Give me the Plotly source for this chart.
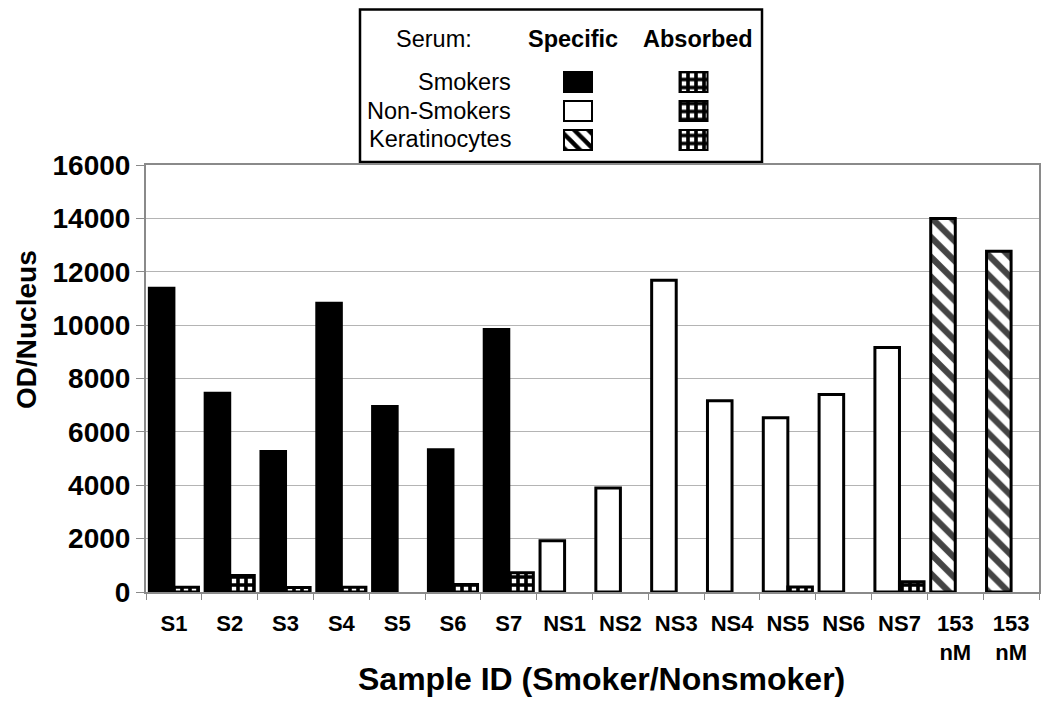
import plotly.graph_objects as go

# ---------------- data ----------------
categories = ["S1", "S2", "S3", "S4", "S5", "S6", "S7",
              "NS1", "NS2", "NS3", "NS4", "NS5", "NS6", "NS7",
              "153<br>nM", "153<br>nM"]
groups = ["Smokers"] * 7 + ["Non-Smokers"] * 7 + ["Keratinocytes"] * 2
specific = [11380, 7450, 5260, 10820, 6950, 5330, 9840,
            1920, 3900, 11680, 7170, 6530, 7400, 9160,
            14000, 12770]
absorbed = [180, 620, 170, 180, None, 280, 720,
            None, None, None, None, 190, None, 380,
            None, None]
y_ticks = [0, 2000, 4000, 6000, 8000, 10000, 12000, 14000, 16000]
legend_rows = ["Smokers", "Non-Smokers", "Keratinocytes"]
legend_cols = ["Specific", "Absorbed"]

# ---------------- styles ----------------
FONT = "Liberation Sans, Arial, Helvetica, sans-serif"
fill_for = {"Smokers": "black", "Non-Smokers": "white", "Keratinocytes": "white"}
shape_for = {"Smokers": "", "Non-Smokers": "", "Keratinocytes": "\\"}
HATCH_SIZE, HATCH_SOLID = 14, 0.45
CHECK_SHAPE, CHECK_SIZE, CHECK_SOLID = "+", 8, 0.7

# layout geometry (pixels); the page body adds an 8px offset
OFF = 8
W, H = 1050 - OFF, 714 - OFF
L, R, T, B = 146 - OFF, 11, 0, 122
PW, PH = W - L - R, H - T - B
PLOT_TOP = 165  # page px


def px_x(x):
    return (x - OFF - L) / PW


def px_y(y):
    return (H - B - (y - OFF)) / PH


x_idx = list(range(len(categories)))

fig = go.Figure()

fig.add_trace(go.Bar(
    x=x_idx, y=specific, name="Specific",
    marker=dict(
        color=[fill_for[g] for g in groups],
        line=dict(color="black", width=3),
        pattern=dict(shape=[shape_for[g] for g in groups],
                     fgcolor="black", bgcolor="white", fgopacity=1,
                     fillmode="overlay", size=HATCH_SIZE, solidity=HATCH_SOLID),
    ),
    showlegend=False,
))
fig.add_trace(go.Bar(
    x=x_idx, y=absorbed, name="Absorbed",
    marker=dict(
        color="white",
        line=dict(color="black", width=3),
        pattern=dict(shape=CHECK_SHAPE, fgcolor="black", bgcolor="white", fgopacity=1,
                     fillmode="overlay", size=CHECK_SIZE, solidity=CHECK_SOLID),
    ),
    showlegend=False,
))

# ---------------- custom legend swatches (overlay axes) ----------------
SW = 0.2424
for ci, col in enumerate(legend_cols):
    for ri, row in enumerate(legend_rows):
        if col == "Specific":
            color = fill_for[row]
            shp = shape_for[row]
            size, sol = 10, 0.45
        else:
            color = "white"
            shp = CHECK_SHAPE
            size, sol = CHECK_SIZE, CHECK_SOLID
        fig.add_trace(go.Bar(
            x=[ci], y=[0.69], base=[ri - 0.345], width=SW, offset=-SW / 2,
            xaxis="x2", yaxis="y2",
            marker=dict(color=color, line=dict(color="black", width=2),
                        pattern=dict(shape=shp, fgcolor="black", bgcolor="white",
                                     fgopacity=1, fillmode="overlay",
                                     size=size, solidity=sol)),
            showlegend=False, hoverinfo="skip",
        ))

grid_col = "#b4b4b4"
axis_col = "#8a8a8a"
main_top = px_y(PLOT_TOP)

fig.update_layout(
    width=W, height=H,
    margin=dict(l=L, r=R, t=T, b=B, pad=0),
    paper_bgcolor="white", plot_bgcolor="white",
    barmode="group", bargap=0.12, bargroupgap=0.0,
    font=dict(family=FONT, color="black"),
    xaxis=dict(
        domain=[0, 1], automargin=False,
        range=[-0.5, len(categories) - 0.5],
        tickmode="array", tickvals=x_idx, ticktext=categories,
        ticks="", showgrid=False, zeroline=False,
        tickfont=dict(family=FONT, size=22, color="black", weight="bold"),
        ticklabelstandoff=11,
        showline=True, linecolor=axis_col, linewidth=2, mirror=True,
        minor=dict(tick0=-0.5, dtick=1, ticks="outside", ticklen=6,
                   tickcolor=axis_col, tickwidth=1, showgrid=False),
    ),
    yaxis=dict(
        domain=[0, main_top], automargin=False,
        range=[0, 16000], tickmode="array", tickvals=y_ticks,
        ticktext=[str(v) for v in y_ticks],
        ticks="outside", ticklen=8, tickcolor=axis_col, tickwidth=1,
        showgrid=True, gridcolor=grid_col, gridwidth=1, zeroline=False,
        tickfont=dict(family=FONT, size=28, color="black", weight="bold"),
        showline=True, linecolor=axis_col, linewidth=2, mirror=True,
    ),
    xaxis2=dict(domain=[px_x(540), px_x(732)], range=[-0.329, 1.333],
                anchor="y2", visible=False, fixedrange=True, automargin=False),
    yaxis2=dict(domain=[px_y(154.5), px_y(67.5)], range=[2.5, -0.5],
                anchor="x2", visible=False, fixedrange=True, automargin=False),
)

# legend box
fig.add_shape(type="rect", xref="paper", yref="paper",
              x0=px_x(360), x1=px_x(762), y0=px_y(162), y1=px_y(9.5),
              line=dict(color="black", width=2.5), fillcolor="white", layer="below")

ann = []
ann.append(dict(text="Serum:", x=px_x(434), y=px_y(39), font=dict(size=23.5)))
ann.append(dict(text="<b>Specific</b>", x=px_x(573), y=px_y(39), font=dict(size=23.5)))
ann.append(dict(text="<b>Absorbed</b>", x=px_x(698), y=px_y(39), font=dict(size=23.5)))
for ri, row in enumerate(legend_rows):
    ann.append(dict(text=row, x=px_x(513), y=px_y(82 + 28.5 * ri), xanchor="right",
                    font=dict(size=23.5)))
ann.append(dict(text="<b>OD/Nucleus</b>", x=px_x(26), y=px_y(330), textangle=-90,
                font=dict(size=28)))
ann.append(dict(text="<b>Sample ID (Smoker/Nonsmoker)</b>", x=px_x(601), y=px_y(679),
                font=dict(size=32)))
for a in ann:
    a.setdefault("xanchor", "center")
    a.update(xref="paper", yref="paper", yanchor="middle", showarrow=False)
    a["font"].update(family=FONT, color="black")
    fig.add_annotation(**a)

fig.write_html("out.html")
